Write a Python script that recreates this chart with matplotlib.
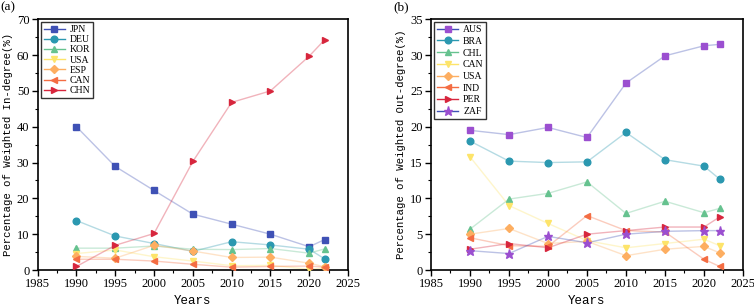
import matplotlib
matplotlib.use("Agg")
import matplotlib.pyplot as plt
from matplotlib.ticker import MultipleLocator

years = [1990, 1995, 2000, 2005, 2010, 2015, 2020, 2022]

# Panel (a): weighted in-degree (%)
a_names = ["JPN", "DEU", "KOR", "USA", "ESP", "CAN", "CHN"]
a_JPN = [40.0, 28.9, 22.2, 15.6, 12.8, 10.0, 6.5, 8.5]
a_DEU = [13.8, 9.5, 7.4, 5.2, 7.9, 7.0, 5.8, 3.1]
a_KOR = [6.1, 6.1, 6.7, 5.8, 5.7, 6.0, 4.7, 5.9]
a_USA = [4.6, 5.6, 3.7, 2.5, 1.2, 1.3, 0.2, 0.5]
a_ESP = [3.8, 3.3, 6.9, 5.3, 3.5, 3.6, 1.9, 0.9]
a_CAN = [3.0, 3.0, 2.5, 1.6, 0.8, 1.0, 1.1, 0.8]
a_CHN = [1.0, 6.9, 10.2, 30.3, 46.8, 50.0, 59.7, 64.3]

# Panel (b): weighted out-degree (%)
b_names = ["AUS", "BRA", "CHL", "CAN", "USA", "IND", "PER", "ZAF"]
b_AUS = [19.5, 18.9, 19.9, 18.5, 26.1, 29.9, 31.3, 31.5]
b_BRA = [18.0, 15.2, 15.0, 15.1, 19.2, 15.4, 14.5, 12.7]
b_CHL = [5.7, 9.9, 10.7, 12.3, 7.9, 9.6, 8.0, 8.6]
b_CAN = [15.8, 9.0, 6.5, 4.1, 3.1, 3.7, 4.3, 3.4]
b_USA = [5.0, 5.8, 3.7, 4.0, 2.0, 2.9, 3.3, 2.4]
b_IND = [4.5, 3.4, 3.3, 7.6, 5.5, 5.3, 1.5, 0.5]
b_PER = [2.9, 3.7, 3.1, 5.0, 5.5, 6.0, 6.0, 7.4]
b_ZAF = [2.7, 2.3, 4.7, 3.8, 5.0, 5.4, 5.5, 5.5]

a_series = [a_JPN, a_DEU, a_KOR, a_USA, a_ESP, a_CAN, a_CHN]
b_series = [b_AUS, b_BRA, b_CHL, b_CAN, b_USA, b_IND, b_PER, b_ZAF]

# (line colour, marker colour, marker)
a_style = [("#3f51b5", "#3f51b5", "s"), ("#2b98b0", "#2b98b0", "o"),
           ("#66c28f", "#66c28f", "^"), ("#fde46a", "#fde46a", "v"),
           ("#fdae61", "#fdae61", "D"), ("#f46d43", "#f46d43", "<"),
           ("#d7263d", "#d7263d", ">")]
b_style = [("#3f51b5", "#9b4fd0", "s"), ("#2b98b0", "#2b98b0", "o"),
           ("#66c28f", "#66c28f", "^"), ("#fde46a", "#fde46a", "v"),
           ("#fdae61", "#fdae61", "D"), ("#f46d43", "#f46d43", "<"),
           ("#d7263d", "#d7263d", ">"), ("#3f51b5", "#9b4fd0", "*")]

plt.rcParams['font.family'] = ['Liberation Serif', 'DejaVu Serif']

fig = plt.figure(figsize=(7.54, 3.06), dpi=100)
ax_a = fig.add_axes([0.050, 0.1176, 0.4115, 0.8194])
ax_b = fig.add_axes([0.5716, 0.1176, 0.4138, 0.8194])


def draw(ax, names, series, styles, ymax, ymaj, ymin, ylabel, lspace):
    for name, vals, (lc, mc, mk) in zip(names, series, styles):
        ms = 6.5 if mk == "*" else (4.2 if mk == "D" else 4.8)
        ax.plot(years, vals, color=lc, alpha=0.35, lw=1.0, zorder=2)
        ax.plot(years, vals, ls="none", marker=mk, ms=ms, color=mc,
                markeredgecolor=mc, zorder=3)
        ax.plot([], [], color=lc, lw=1.0, marker=mk, ms=ms, mfc=mc,
                mec=mc, label=name)
    ax.set_xlim(1985, 2025)
    ax.set_ylim(0, ymax)
    ax.xaxis.set_major_locator(MultipleLocator(5))
    ax.xaxis.set_minor_locator(MultipleLocator(2.5))
    ax.yaxis.set_major_locator(MultipleLocator(ymaj))
    ax.yaxis.set_minor_locator(MultipleLocator(ymin))
    ax.tick_params(which="major", direction="out", length=4, width=1,
                   labelsize=9, pad=2)
    ax.tick_params(which="minor", direction="out", length=2.5, width=0.8)
    for s in ax.spines.values():
        s.set_linewidth(1.2)
    ax.set_xlabel("Years", fontsize=9, family="Liberation Mono", labelpad=3)
    ax.set_ylabel(ylabel, fontsize=7.7, family="Liberation Mono", labelpad=3)
    leg = ax.legend(loc="upper left", fontsize=7, frameon=True, fancybox=False,
                    edgecolor="black", handlelength=2.2, handletextpad=0.5,
                    labelspacing=lspace, borderpad=0.3, borderaxespad=0.3)
    leg.get_frame().set_linewidth(1.0)


draw(ax_a, a_names, a_series, a_style, 70, 10, 5,
     "Percentage of Weighted In-degree(%)", 0.12)
draw(ax_b, b_names, b_series, b_style, 35, 5, 2.5,
     "Percentage of Weighted Out-degree(%)", 0.28)

fig.text(0.0, 0.995, "(a)", fontsize=9.5, va="top", ha="left")
fig.text(0.522, 0.995, "(b)", fontsize=9.5, va="top", ha="left")

fig.savefig("out.png", dpi=100)
